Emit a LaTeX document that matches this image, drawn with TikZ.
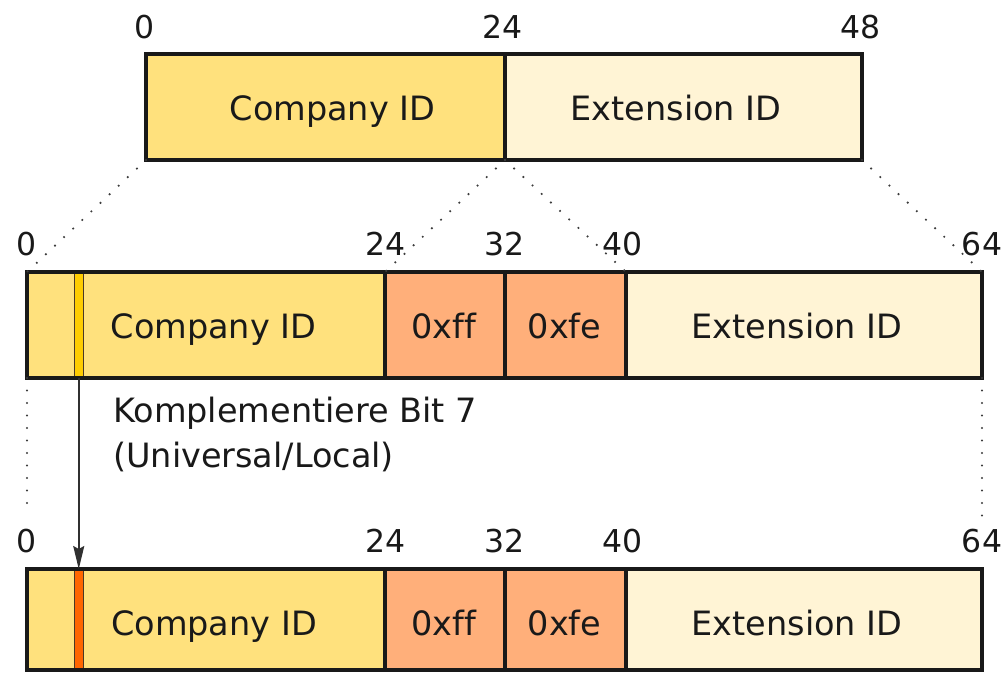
\documentclass[tikz,border=0pt]{standalone}
\usepackage{fontspec}
\setmainfont{DejaVu Sans}[Ligatures=NoCommon]
\usetikzlibrary{arrows.meta}

\definecolor{cidfill}{RGB}{255,225,125}
\definecolor{extfill}{RGB}{255,244,213}
\definecolor{hexfill}{RGB}{255,175,122}
\definecolor{ulbit}{RGB}{255,204,0}
\definecolor{ulflip}{RGB}{255,102,0}
\definecolor{ink}{RGB}{25,25,25}
\definecolor{dotgray}{RGB}{60,60,60}

\begin{document}
\begin{tikzpicture}[
  x=1pt, y=-1pt,
  field/.style={rectangle, inner sep=0pt, outer sep=0pt, anchor=north west,
                draw=ink, line width=3.2pt, minimum height=106pt},
  lowfield/.style={field, minimum height=101pt},
  border/.style={draw=ink, line width=3.2pt},
  bitstrip/.style={rectangle, inner sep=0pt, outer sep=0pt, anchor=north west,
                   draw=ink!70!brown, line width=1pt, minimum width=8.5pt},
  lbl/.style={anchor=base, inner sep=0pt, text=ink,
              font=\fontsize{33.5}{40}\selectfont},
  num/.style={anchor=base, inner sep=0pt, text=ink,
              font=\fontsize{31.5}{36}\selectfont},
  guide/.style={draw=dotgray, line width=2.4pt, line cap=round,
                dash pattern=on 0pt off 12.5pt},
  flip/.style={draw=ink!90, line width=1.7pt,
               -{Stealth[length=23pt, width=11pt, inset=3pt]}}
]
\useasboundingbox (0,0) rectangle (1005,674);

% ---------- 48-bit MAC address ----------
\node[field, fill=cidfill, minimum width=359pt] (mcid) at (146,54) {};
\node[field, fill=extfill, minimum width=357pt] (mext) at (505,54) {};
\node[lbl] (mcidtxt) at (332.5,121) {Company ID};
\node[lbl] (mexttxt) at (676,121) {Extension ID};
\node[num] (m0)  at (145,39) {0};
\node[num] (m24) at (503,39) {24};
\node[num] (m48) at (861,39) {48};

% ---------- 64-bit interface identifier (before flip) ----------
\node[field, fill=cidfill, minimum width=358pt] (acid) at (27,272) {};
\node[bitstrip, fill=ulbit, minimum height=106pt] (abit) at (74.5,272) {};
\draw[border] (acid.north west) rectangle (acid.south east);
\node[field, fill=hexfill, minimum width=120pt] (aff)  at (385,272) {};
\node[field, fill=hexfill, minimum width=121pt] (afe)  at (505,272) {};
\node[field, fill=extfill, minimum width=356pt] (aext) at (626,272) {};
\node[lbl] (acidtxt) at (213.5,338) {Company ID};
\node[lbl] (afftxt)  at (443.5,338) {0xff};
\node[lbl] (afetxt)  at (564.5,338) {0xfe};
\node[lbl] (aexttxt) at (797,338) {Extension ID};
\node[num] (a0)  at (27,255) {0};
\node[num] (a24) at (386,255) {24};
\node[num] (a32) at (505,255) {32};
\node[num] (a40) at (623,255) {40};
\node[num] (a64) at (982,255) {64};

% ---------- 64-bit interface identifier (after flip) ----------
\node[lowfield, fill=cidfill, minimum width=358pt] (bcid) at (27,569) {};
\node[bitstrip, fill=ulflip, minimum height=101pt] (bbit) at (74.5,569) {};
\draw[border] (bcid.north west) rectangle (bcid.south east);
\node[lowfield, fill=hexfill, minimum width=120pt] (bff)  at (385,569) {};
\node[lowfield, fill=hexfill, minimum width=121pt] (bfe)  at (505,569) {};
\node[lowfield, fill=extfill, minimum width=356pt] (bext) at (626,569) {};
\node[lbl] (bcidtxt) at (214,635) {Company ID};
\node[lbl] (bfftxt)  at (443.5,635) {0xff};
\node[lbl] (bfetxt)  at (564.5,635) {0xfe};
\node[lbl] (bexttxt) at (797,635) {Extension ID};
\node[num] (b0)  at (27,552) {0};
\node[num] (b24) at (386,552) {24};
\node[num] (b32) at (505,552) {32};
\node[num] (b40) at (623,552) {40};
\node[num] (b64) at (982,552) {64};

% ---------- dotted guides from the 48-bit to the 64-bit layout ----------
\draw[guide] (mcid.south west) -- (acid.north west);
\draw[guide] (mcid.south east) -- (aff.north west);
\draw[guide] (mext.south west) -- (aext.north west);
\draw[guide] (mext.south east) -- (aext.north east);

% ---------- dotted guides down to the flipped identifier ----------
\coordinate (lguideend) at (27,510);
\coordinate (rguideend) at (982,520);
\draw[guide] (acid.south west) -- (lguideend);
\draw[guide] (aext.south east) -- (rguideend);

% ---------- flipping the universal/local bit ----------
\draw[flip] (abit.south) -- (bbit.north);
\node[anchor=base west, inner sep=0pt, text=ink, align=left,
      font=\fontsize{33.5}{45}\selectfont] (fliptxt) at (113,467)
  {Komplementiere Bit 7\\(Universal/Local)};

\end{tikzpicture}
\end{document}
